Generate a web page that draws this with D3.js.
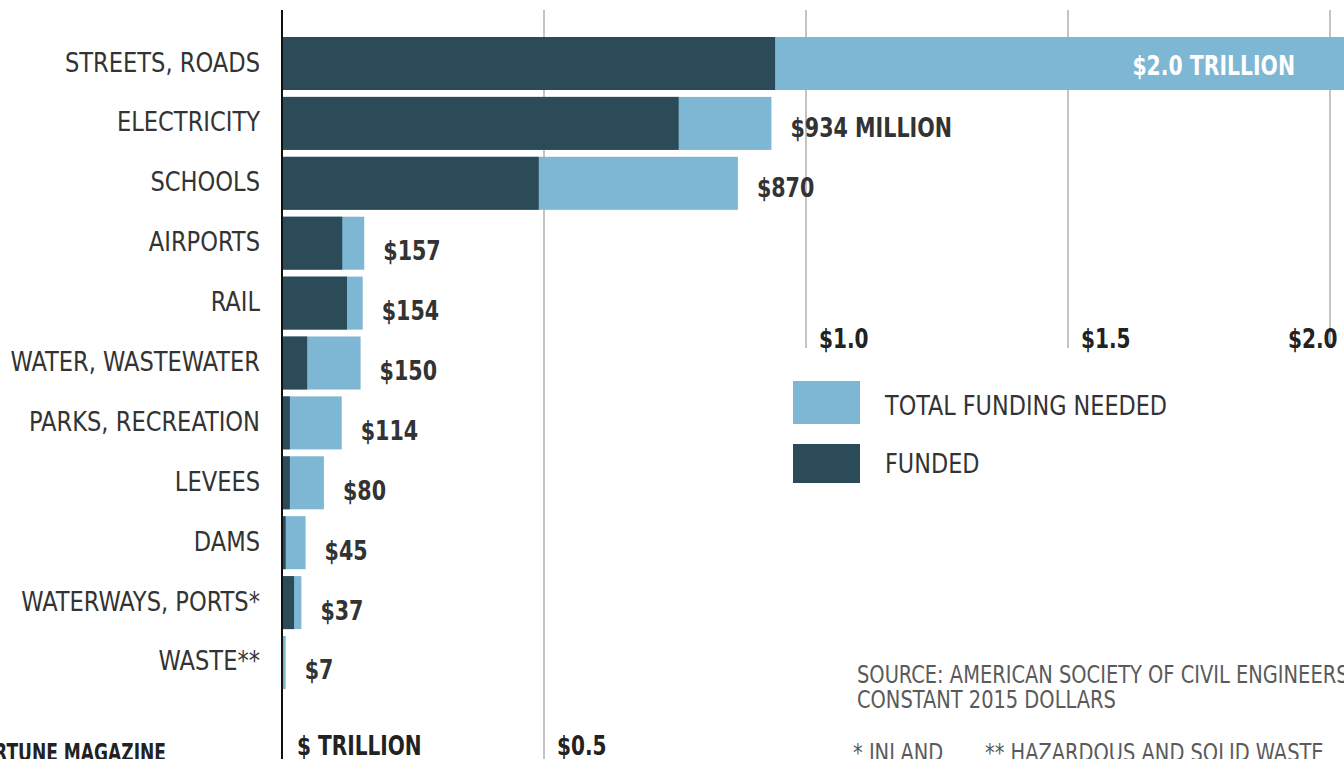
<!DOCTYPE html>
<html>
<head>
<meta charset="utf-8">
<script src="https://cdn.jsdelivr.net/npm/d3@7"></script>
<style>
  html, body { margin: 0; padding: 0; background: #fff; overflow: hidden; }
  svg { display: block; }
  text { font-family: "DejaVu Sans Condensed", "Liberation Sans Narrow", sans-serif; }
</style>
</head>
<body>
<svg id="chart" width="1344" height="759"></svg>
<script>
// Infrastructure spending, billions of constant 2015 dollars
const categories = ["STREETS, ROADS", "ELECTRICITY", "SCHOOLS", "AIRPORTS", "RAIL",
  "WATER, WASTEWATER", "PARKS, RECREATION", "LEVEES", "DAMS", "WATERWAYS, PORTS*", "WASTE**"];
const totalNeeded = [2042, 934, 870, 157, 154, 150, 114, 80, 45, 37, 7];
const funded = [941, 757, 490, 115, 124, 48, 15, 15, 7, 23, 2];
const tickValues = [0.5, 1.0, 1.5, 2.0];            // trillions
const tickLabels = ["$0.5", "$1.0", "$1.5", "$2.0"];
const legendLabels = ["TOTAL FUNDING NEEDED", "FUNDED"];

const DARK = "#2c4b59";
const LIGHT = "#7eb7d3";
const INK = "#333333";

const svg = d3.select("#chart");

// condensed text: horizontally squeezed to get a narrow face
function label(parent, x, y, str, o = {}) {
  const sx = o.sx || 0.9;
  return parent.append("text")
    .attr("transform", `translate(${x},${y}) scale(${sx},1)`)
    .attr("text-anchor", o.anchor || "start")
    .attr("font-size", o.size || 27)
    .attr("font-weight", o.weight || "normal")
    .attr("fill", o.fill || INK)
    .text(str);
}

// x in trillions of dollars
const x = d3.scaleLinear().domain([0, 2]).range([282, 1330]);
const y = d3.scaleBand().domain(categories).range([37, 689]).paddingInner(0.115);

// gridlines: $0.5 runs the full height, the rest stop above the legend
const gridTop = 10;
tickValues.forEach(v => {
  svg.append("line")
    .attr("x1", x(v)).attr("x2", x(v))
    .attr("y1", gridTop).attr("y2", v === 0.5 ? 759 : 348)
    .attr("stroke", "#b0b0b0").attr("stroke-width", 1.5);
});

const rows = categories.map((c, i) => ({ cat: c, total: totalNeeded[i], funded: funded[i], i }));

// total need (light) then funded (dark) on top
svg.append("g").selectAll("rect").data(rows).join("rect")
  .attr("x", x(0))
  .attr("y", d => y(d.cat))
  .attr("width", d => x(d.total / 1000) - x(0))
  .attr("height", y.bandwidth())
  .attr("fill", LIGHT);

svg.append("g").selectAll("rect").data(rows).join("rect")
  .attr("x", x(0))
  .attr("y", d => y(d.cat))
  .attr("width", d => x(d.funded / 1000) - x(0))
  .attr("height", y.bandwidth())
  .attr("fill", DARK);

// zero axis
svg.append("line")
  .attr("x1", x(0)).attr("x2", x(0))
  .attr("y1", gridTop).attr("y2", 759)
  .attr("stroke", "#111").attr("stroke-width", 2);

// category labels
const catG = svg.append("g");
rows.forEach(d => {
  label(catG, 260, y(d.cat) + y.bandwidth() / 2 + 8, d.cat, { anchor: "end", sx: 0.93 });
});

// value labels
function valueText(d) {
  if (d.total >= 1000) return "$" + d3.format(".1f")(d.total / 1000) + " TRILLION";
  if (d.i === 1) return "$" + d.total + " MILLION";
  return "$" + d.total;
}
const valG = svg.append("g");
rows.forEach(d => {
  const cy = y(d.cat) + y.bandwidth() / 2;
  if (d.i === 0) {
    label(valG, 1295, cy + 11, valueText(d), { anchor: "end", weight: "bold", fill: "#ffffff", sx: 0.84 });
  } else {
    const dy = d.i < 3 ? 14 : 17;
    label(valG, x(d.total / 1000) + 19, cy + dy, valueText(d), { weight: "bold", sx: 0.85 });
  }
});

// axis tick labels
tickValues.forEach((v, i) => {
  const last = i === tickValues.length - 1;
  label(svg, last ? x(v) - 42 : x(v) + 13, v === 0.5 ? 755 : 348, tickLabels[i],
    { size: 26, weight: "bold", fill: "#222", sx: 0.86 });
});
label(svg, x(0) + 15, 755, "$ TRILLION", { size: 26, weight: "bold", fill: "#222", sx: 0.86 });

// legend
const legend = svg.append("g").attr("transform", "translate(793,381)");
[LIGHT, DARK].forEach((col, i) => {
  legend.append("rect")
    .attr("x", 0).attr("y", i === 0 ? 0 : 63)
    .attr("width", 67).attr("height", i === 0 ? 43 : 39)
    .attr("fill", col);
  label(legend, 92, i === 0 ? 34 : 92, legendLabels[i], { sx: 0.92 });
});

// notes
const noteOpt = { size: 24, fill: "#5a5a5a", sx: 0.9 };
label(svg, 857, 683, "SOURCE: AMERICAN SOCIETY OF CIVIL ENGINEERS", noteOpt);
label(svg, 857, 708, "CONSTANT 2015 DOLLARS", noteOpt);
label(svg, 853, 761, "* INLAND", noteOpt);
label(svg, 985, 761, "** HAZARDOUS AND SOLID WASTE", noteOpt);

label(svg, 166, 761, "FORTUNE MAGAZINE", { anchor: "end", size: 25, weight: "bold", fill: "#222", sx: 0.76 });
</script>
</body>
</html>
